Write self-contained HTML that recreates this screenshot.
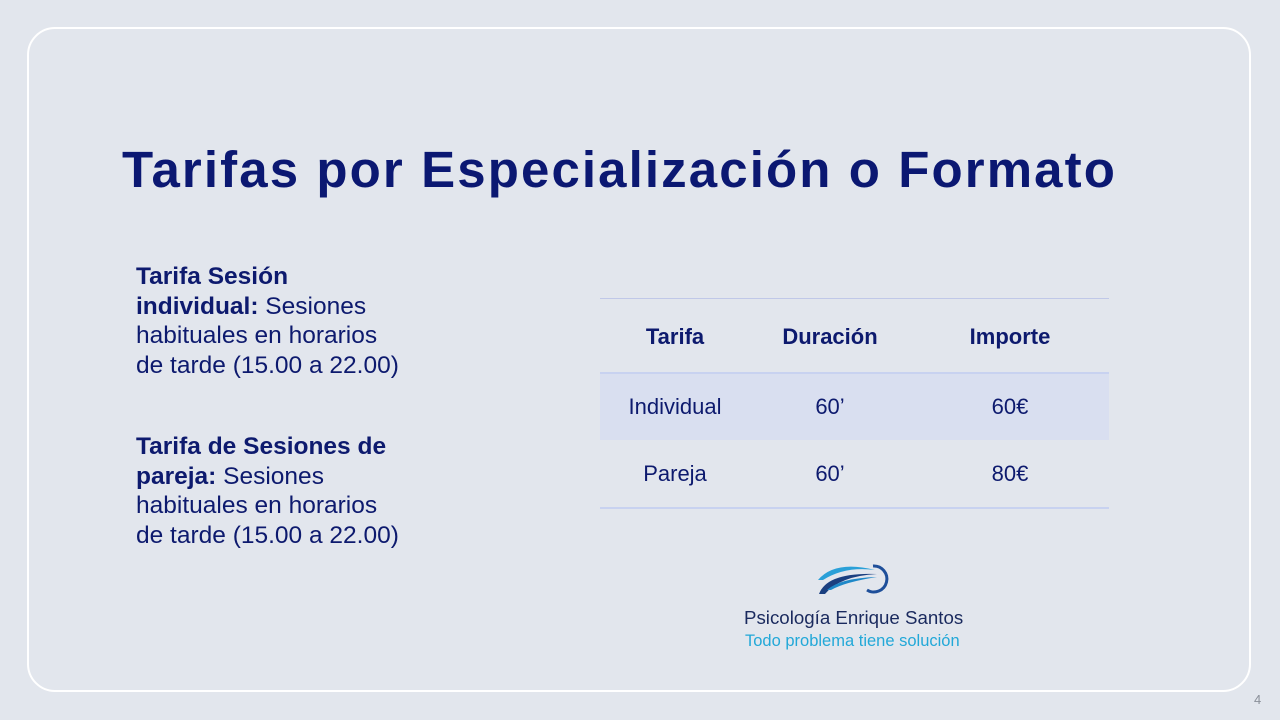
<!DOCTYPE html>
<html><head><meta charset="utf-8"><style>
body{margin:0;width:1280px;height:720px;background:#e2e6ed;position:relative;overflow:hidden;font-family:"Liberation Sans",sans-serif;color:#0d1a6e}
.card{position:absolute;left:27px;top:27px;width:1224px;height:665px;border:2px solid #fff;border-radius:28px;box-sizing:border-box}
h1{position:absolute;left:122px;top:140px;margin:0;font-size:51px;font-weight:bold;color:#0b1872;letter-spacing:2.1px;white-space:nowrap}
.txt{position:absolute;left:136px;font-size:24.5px;line-height:29.5px;white-space:nowrap}
.t{position:absolute;font-size:22px;text-align:center}
.line{position:absolute;left:600px;width:509px;height:2px;background:#c8d2f0}
</style></head><body>
<div class="card"></div>
<h1>Tarifas por Especialización o Formato</h1>
<div class="txt" style="top:262px"><b>Tarifa Sesión</b><br><b>individual:</b> Sesiones<br>habituales en horarios<br>de tarde (15.00 a 22.00)</div>
<div class="txt" style="top:432px"><b>Tarifa de Sesiones de</b><br><b>pareja:</b> Sesiones<br>habituales en horarios<br>de tarde (15.00 a 22.00)</div>
<div class="line" style="top:298px;height:1px;background:#c0c8e8"></div>
<div class="line" style="top:372px"></div>
<div style="position:absolute;left:600px;top:374px;width:509px;height:66px;background:#d9dff0"></div>
<div class="line" style="top:507px"></div>
<div class="t" style="left:600px;width:150px;top:324px;font-weight:bold">Tarifa</div>
<div class="t" style="left:750px;width:160px;top:324px;font-weight:bold">Duración</div>
<div class="t" style="left:910px;width:200px;top:324px;font-weight:bold">Importe</div>
<div class="t" style="left:600px;width:150px;top:394px">Individual</div>
<div class="t" style="left:750px;width:160px;top:394px">60’</div>
<div class="t" style="left:910px;width:200px;top:394px">60€</div>
<div class="t" style="left:600px;width:150px;top:461px">Pareja</div>
<div class="t" style="left:750px;width:160px;top:461px">60’</div>
<div class="t" style="left:910px;width:200px;top:461px">80€</div>
<svg style="position:absolute;left:815px;top:560px" width="76" height="38" viewBox="0 0 76 38">
<path d="M3 20 Q20 0 60 10 Q30 6 8 20Z" fill="#2aa0d8"/>
<path d="M4 34 Q12 12 62 14 Q25 16 10 34Z" fill="#1a3f80"/>
<path d="M12 30 Q25 18 62 17 Q30 22 16 30Z" fill="#1e88c8"/>
<path d="M58 6 A13 13 0 1 1 52 30" stroke="#1e4f9a" stroke-width="3" fill="none"/>
</svg>
<div style="position:absolute;left:744px;top:607px;font-size:18.7px;color:#1a2a5e">Psicología Enrique Santos</div>
<div style="position:absolute;left:745px;top:632px;font-size:16.5px;color:#22a8d8">Todo problema tiene solución</div>
<div style="position:absolute;left:1254px;top:692px;font-size:13px;color:#8a8f99">4</div>
</body></html>
